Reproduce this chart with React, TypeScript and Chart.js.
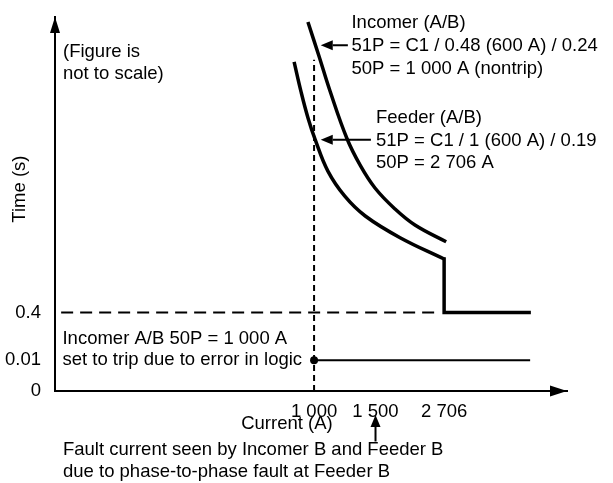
import React, { useEffect, useRef } from "react";
import { Chart, registerables } from "chart.js";

Chart.register(...registerables);

// Schematic coordinates (the figure is not to scale): both axes run 0..100
const xTickLabels = ["1 000", "1 500", "2 706"];
const xTickPositions = [50.6, 62.6, 76.0];
const yTickLabels = ["0", "0.01", "0.4"];
const yTickPositions = [0, 8.24, 21.0];

// Incomer (A/B) 51P curve
const incomerX = [49.4, 51.6, 53.7, 57.0, 59.6, 62.5, 66.4, 70.3, 76.4];
const incomerY = [98.7, 89.4, 80.3, 67.6, 60.4, 54.3, 48.7, 44.4, 39.9];

// Feeder (A/B) 51P curve
const feederX = [46.7, 48.05, 49.4, 50.8, 53.3, 56.6, 60.6, 67.4, 76.0];
const feederY = [88.0, 80.05, 73.1, 67.3, 58.8, 52.1, 46.8, 41.0, 35.3];

// Feeder 50P step (at 2 706 A down to 0.4 s)
const feederStepX = [76.0, 76.0, 92.6];
const feederStepY = [35.3, 21.0, 21.0];

// Incomer 50P trip line at 0.01 s from 1 000 A
const tripLineX = [50.6, 92.8];
const tripLineY = [8.24, 8.24];

// Reference guides
const guide1000X = [50.6, 50.6];
const guide1000Y = [0, 88.6];
const guide04X = [1.2, 74.4];
const guide04Y = [21.0, 21.0];

const textBlocks = [
  { lines: ["Incomer (A/B)", "51P = C1 / 0.48 (600 A) / 0.24", "50P = 1 000 A (nontrip)"], x: 57.9, y: 98.4, lh: 22.8, align: "left" },
  { lines: ["Feeder (A/B)", "51P = C1 / 1 (600 A) / 0.19", "50P = 2 706 A"], x: 62.7, y: 72.95, lh: 22.5, align: "left" },
  { lines: ["(Figure is", "not to scale)"], x: 1.56, y: 90.7, lh: 22, align: "left" },
  { lines: ["Incomer A/B 50P = 1 000 A", "set to trip due to error in logic"], x: 1.46, y: 14.0, lh: 21.7, align: "left" },
  { lines: ["Current (A)"], x: 45.3, y: -8.9, lh: 22, align: "center" },
  { lines: ["Fault current seen by Incomer B and Feeder B", "due to phase-to-phase fault at Feeder B"], x: 1.56, y: -15.8, lh: 21.5, align: "left" },
];

const pointerArrows = [
  { from: [57.2, 92.47], to: [51.9, 92.47] },
  { from: [61.7, 67.2], to: [51.9, 67.2] },
  { from: [62.6, -13.5], to: [62.6, -6.4] },
];

const yTitle = { text: "Time (s)", x: -6.84, y: 54.0 };

const FONT = '"Liberation Sans", Arial, sans-serif';
const FONT_SIZE = 18.5;

const pts = (xs: number[], ys: number[]) => xs.map((x, i) => ({ x, y: ys[i] }));

function tri(ctx: CanvasRenderingContext2D, a: number[], b: number[], c: number[]) {
  ctx.beginPath();
  ctx.moveTo(a[0], a[1]);
  ctx.lineTo(b[0], b[1]);
  ctx.lineTo(c[0], c[1]);
  ctx.closePath();
  ctx.fill();
}

const overlay = {
  id: "overlay",
  afterDraw(chart: any) {
    const { ctx, chartArea } = chart;
    const xs = chart.scales.x;
    const ys = chart.scales.y;
    const L = chartArea.left, T = chartArea.top, R = chartArea.right, B = chartArea.bottom;
    ctx.save();
    ctx.fillStyle = "#000";
    ctx.strokeStyle = "#000";
    // axis arrowheads
    tri(ctx, [L, T], [L - 5, T + 16], [L + 5, T + 16]);
    tri(ctx, [R, B], [R - 17, B - 5.5], [R - 17, B + 5.5]);
    // pointer arrows
    ctx.lineWidth = 2;
    for (const a of pointerArrows) {
      const fx = xs.getPixelForValue(a.from[0]);
      const fy = ys.getPixelForValue(a.from[1]);
      const tx = xs.getPixelForValue(a.to[0]);
      const ty = ys.getPixelForValue(a.to[1]);
      const ang = Math.atan2(ty - fy, tx - fx);
      const len = 12, hw = 5;
      const bx = tx - Math.cos(ang) * len;
      const by = ty - Math.sin(ang) * len;
      ctx.beginPath();
      ctx.moveTo(fx, fy);
      ctx.lineTo(bx, by);
      ctx.stroke();
      const nx = -Math.sin(ang) * hw, ny = Math.cos(ang) * hw;
      tri(ctx, [tx, ty], [bx + nx, by + ny], [bx - nx, by - ny]);
    }
    // texts
    ctx.font = FONT_SIZE + "px " + FONT;
    ctx.textBaseline = "middle";
    for (const b of textBlocks) {
      ctx.textAlign = b.align as CanvasTextAlign;
      const px = xs.getPixelForValue(b.x);
      const py = ys.getPixelForValue(b.y);
      b.lines.forEach((line, i) => ctx.fillText(line, px, py + i * b.lh));
    }
    // y title
    ctx.translate(xs.getPixelForValue(yTitle.x), ys.getPixelForValue(yTitle.y));
    ctx.rotate(-Math.PI / 2);
    ctx.textAlign = "center";
    ctx.fillText(yTitle.text, 0, 0);
    ctx.restore();
  },
};

export default function App() {
  const ref = useRef<HTMLCanvasElement>(null);
  useEffect(() => {
    if (!ref.current) return;
    const chart = new Chart(ref.current, {
      type: "scatter",
      data: {
        datasets: [
          {
            data: pts(incomerX, incomerY),
            showLine: true,
            borderColor: "#000",
            borderWidth: 3.5,
            pointRadius: 0,
            tension: 0.4,
          },
          {
            data: pts(feederX, feederY),
            showLine: true,
            borderColor: "#000",
            borderWidth: 3.5,
            pointRadius: 0,
            tension: 0.4,
          },
          {
            data: pts(feederStepX, feederStepY),
            showLine: true,
            borderColor: "#000",
            borderWidth: 3.5,
            pointRadius: 0,
            tension: 0,
            borderCapStyle: "square",
            borderJoinStyle: "miter",
          },
          {
            data: pts(tripLineX, tripLineY),
            showLine: true,
            borderColor: "#000",
            borderWidth: 2,
            pointRadius: [4, 0],
            pointBackgroundColor: "#000",
            pointBorderWidth: 0,
          },
          {
            data: pts(guide1000X, guide1000Y),
            showLine: true,
            borderColor: "#000",
            borderWidth: 2,
            borderDash: [6, 4],
            pointRadius: 0,
          },
          {
            data: pts(guide04X, guide04Y),
            showLine: true,
            borderColor: "#000",
            borderWidth: 2,
            borderDash: [12, 7],
            pointRadius: 0,
          },
        ],
      },
      options: {
        responsive: false,
        animation: false,
        events: [],
        layout: { padding: { top: 15, right: 46, bottom: 0, left: 0 } },
        plugins: { legend: { display: false }, tooltip: { enabled: false } },
        scales: {
          x: {
            type: "linear",
            min: 0,
            max: 100,
            afterFit: (s: any) => { s.height = 92; },
            afterBuildTicks: (s: any) => { s.ticks = xTickPositions.map((v) => ({ value: v })); },
            ticks: {
              autoSkip: false,
              maxRotation: 0,
              padding: 1.5,
              color: "#000",
              font: { size: FONT_SIZE, family: FONT },
              callback: (_v: any, i: number) => xTickLabels[i],
            },
            grid: { display: false },
            border: { display: true, color: "#000", width: 2 },
          },
          y: {
            type: "linear",
            min: 0,
            max: 100,
            afterFit: (s: any) => { s.width = 55; },
            afterBuildTicks: (s: any) => { s.ticks = yTickPositions.map((v) => ({ value: v })); },
            ticks: {
              autoSkip: false,
              padding: 6,
              color: "#000",
              font: { size: FONT_SIZE, family: FONT },
              callback: (_v: any, i: number) => yTickLabels[i],
            },
            grid: { display: false },
            border: { display: true, color: "#000", width: 2 },
          },
        },
      },
      plugins: [overlay],
    });
    return () => chart.destroy();
  }, []);
  return (
    <div style={{ position: "fixed", left: 0, top: 0, width: 613, height: 483, background: "#fff" }}>
      <canvas ref={ref} width={613} height={483} style={{ display: "block" }} />
    </div>
  );
}
